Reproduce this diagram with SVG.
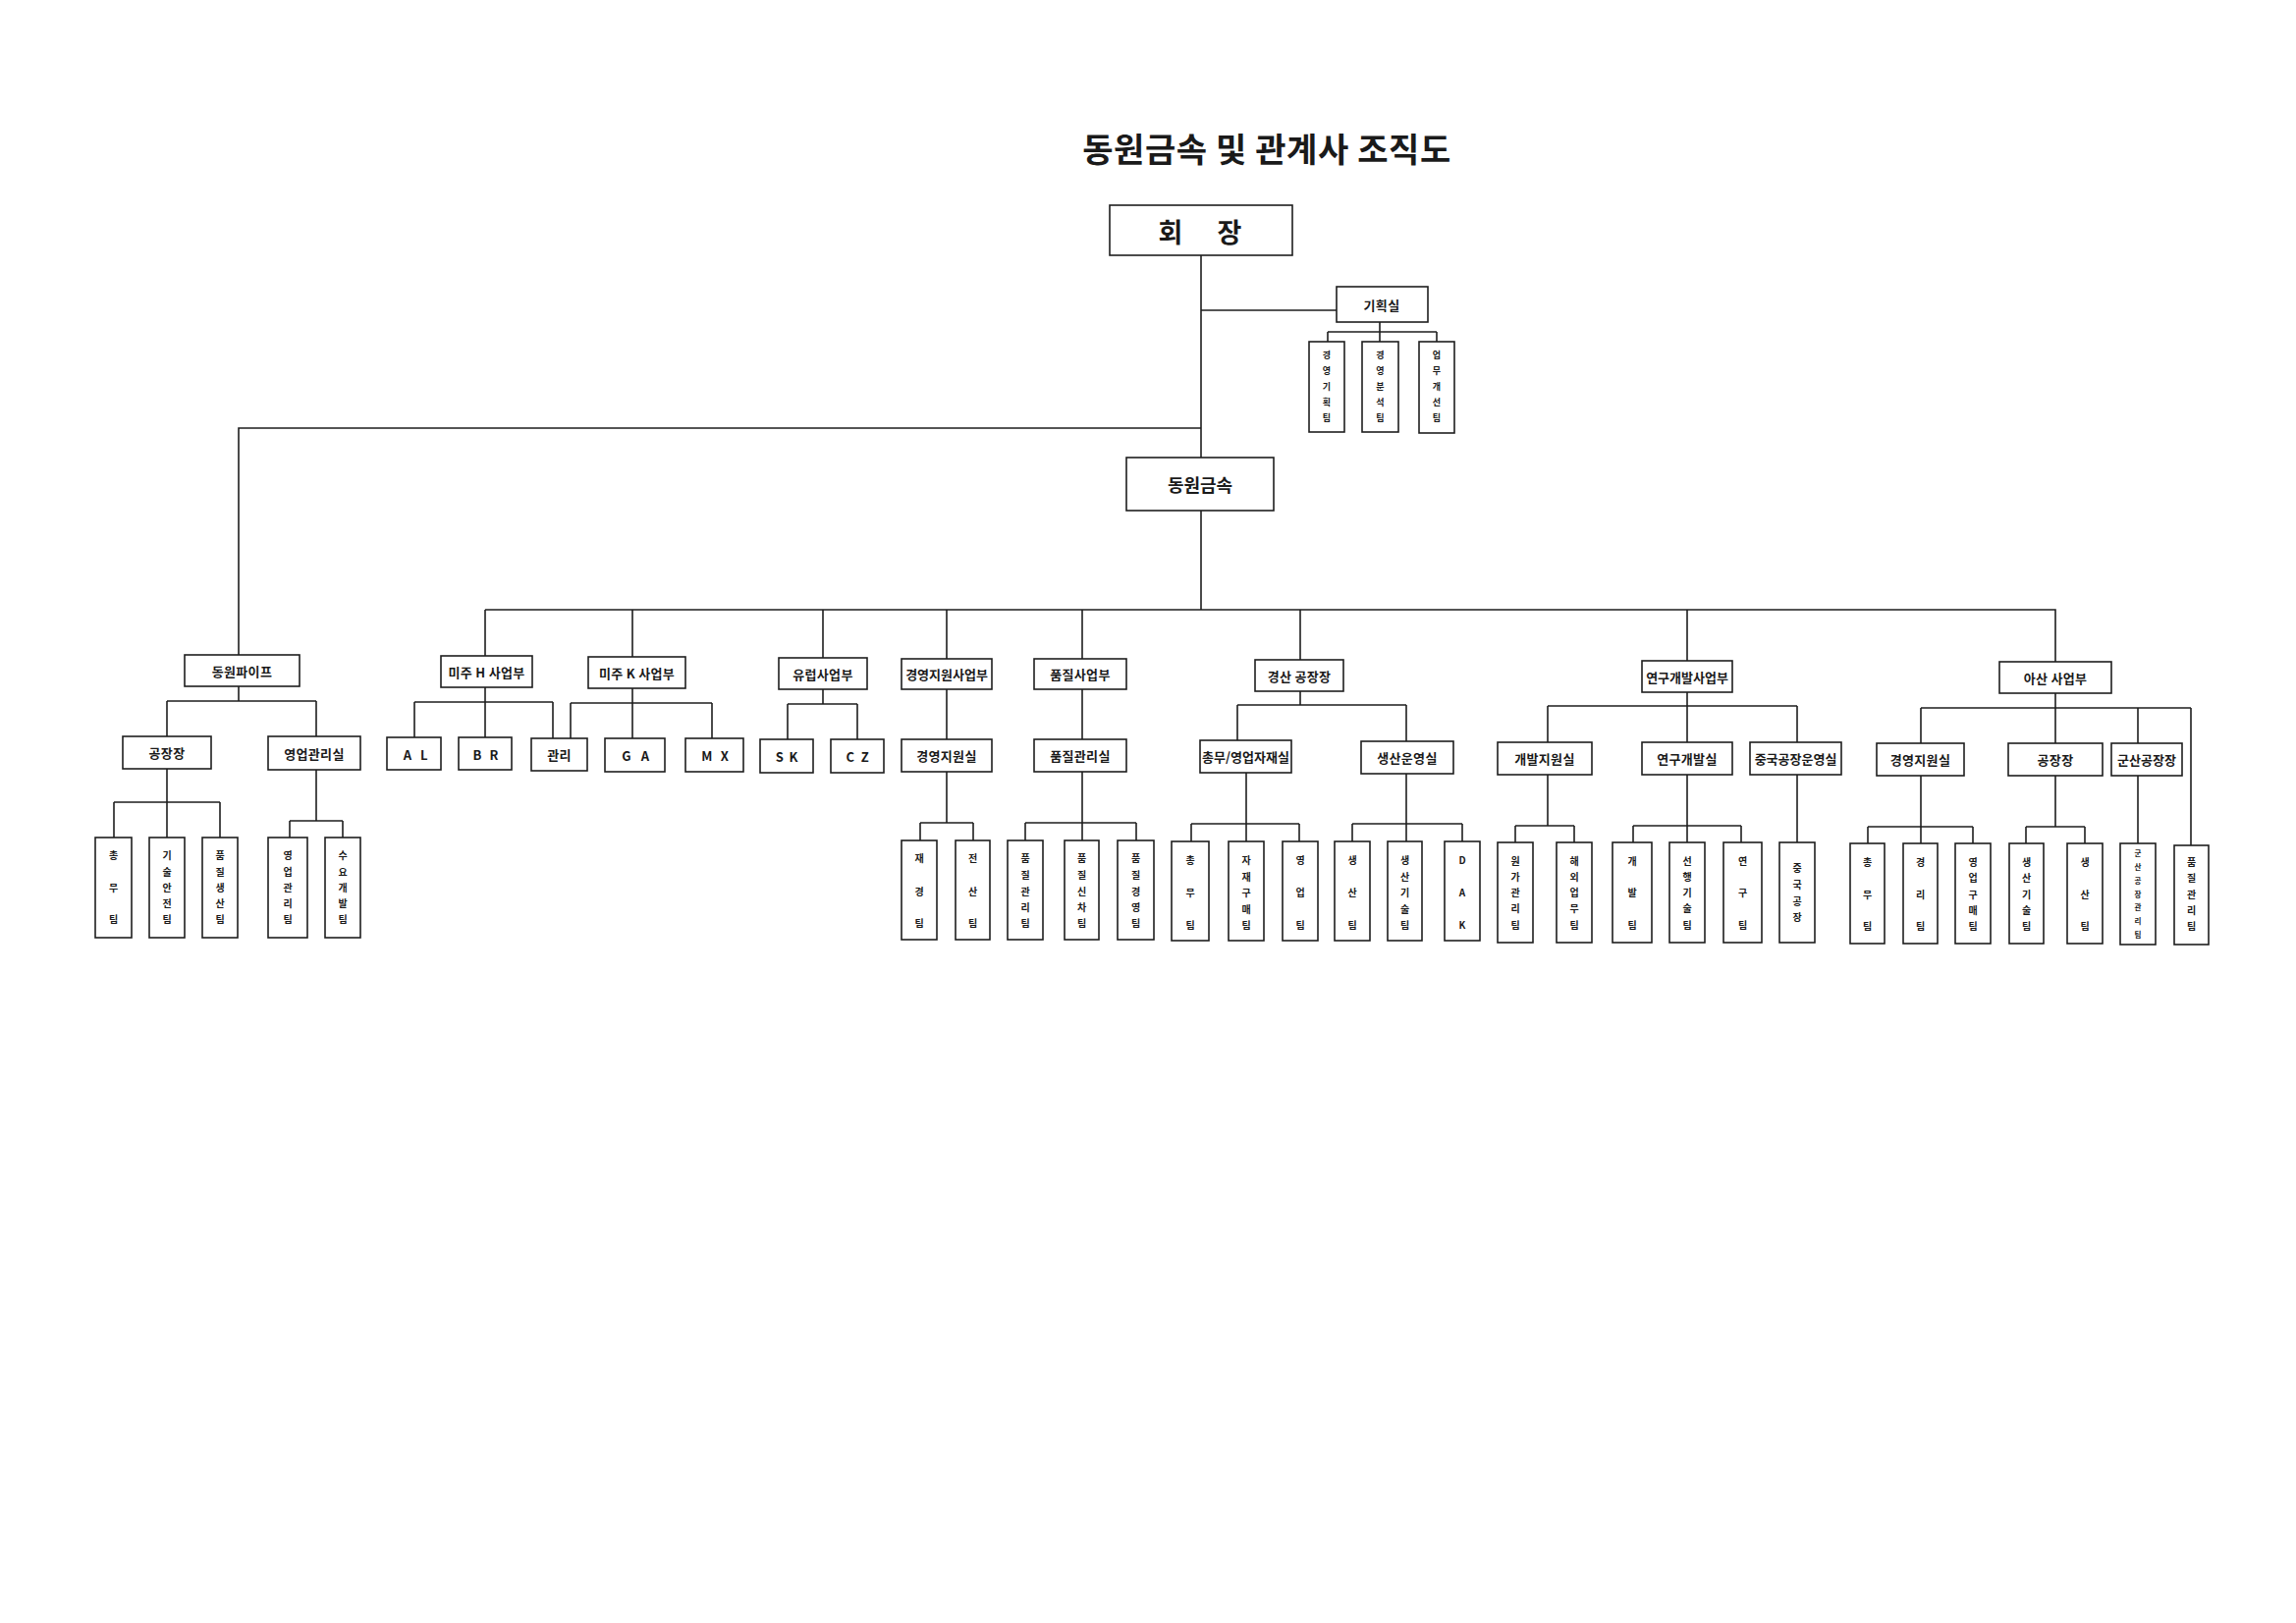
<svg xmlns="http://www.w3.org/2000/svg" width="2338" height="1653" viewBox="0 0 2338 1653">
<style>
rect{fill:#fff;stroke:#1e1e1e;stroke-width:1.6}
text{font-family:"Noto Sans CJK KR","Noto Sans",sans-serif;font-weight:bold;fill:#1a1a1a;text-anchor:middle;dominant-baseline:central}
.t{font-size:13px;letter-spacing:0.3px}
.v{font-size:10px}
.v9{font-size:9px}
.v8{font-size:7.5px}
#connectors path{fill:none;stroke:#1e1e1e;stroke-width:1.6}
</style>
<rect x="0" y="0" width="2338" height="1653" style="fill:#fff;stroke:none"/>
<text x="1290" y="150" style="font-size:34px;letter-spacing:0.6px">동원금속 및 관계사 조직도</text>

<g id="connectors">
<path d="M1223 260V466M1223 520V621"/>
<path d="M1223 316H1361M1405 328V338M1352 338H1463M1352 338V348M1405 338V348M1463 338V348"/>
<path d="M1223 436H243V667"/>
<path d="M494 621H2093V674M494 621V668M644 621V669M838 621V670M964 621V671M1102 621V671M1324 621V672M1718 621V673"/>
<path d="M243 699V714M170 714H322M170 714V750M322 714V750"/>
<path d="M170 783V817M116 817H224M116 817V853M170 817V853M224 817V853"/>
<path d="M322 784V836M295 836H349M295 836V853M349 836V853"/>
<path d="M494 700V751M422 715H563M422 715V751M563 715V752"/>
<path d="M644 701V752M581 716H725M581 716V752M725 716V752"/>
<path d="M838 702V717M802 717H873M802 717V753M873 717V753"/>
<path d="M964 702V753M964 786V838M937 838H991M937 838V856M991 838V856"/>
<path d="M1102 702V753M1102 786V856M1044 838H1157M1044 838V856M1157 838V856"/>
<path d="M1324 704V718M1260 718H1432M1260 718V754M1432 718V755"/>
<path d="M1269 787V857M1213 839H1323M1213 839V857M1323 839V857"/>
<path d="M1432 788V857M1377 839H1489M1377 839V857M1489 839V857"/>
<path d="M1718 705V756M1576 719H1830M1576 719V756M1830 719V756"/>
<path d="M1576 789V841M1543 841H1603M1543 841V858M1603 841V858"/>
<path d="M1718 789V858M1663 841H1773M1663 841V858M1773 841V858"/>
<path d="M1830 789V858"/>
<path d="M2093 706V757M1956 721H2231M1956 721V757M2177 721V757M2231 721V861"/>
<path d="M1956 790V842M1902 842H2009M1902 842V859M1956 842V859M2009 842V859"/>
<path d="M2093 790V842M2063 842H2123M2063 842V859M2123 842V859"/>
<path d="M2177 790V859"/>
</g>

<g id="n-chairman"><rect x="1130" y="209" width="186" height="51"/><text style="font-size:27px" y="235"><tspan x="1192">회</tspan><tspan x="1252">장</tspan></text></g>
<g id="n-planning"><rect x="1361" y="292" width="93" height="36"/><text class="t" x="1407" y="310">기획실</text></g>
<g id="n-plan1"><rect x="1333" y="348" width="36" height="92"/><text class="v9"><tspan x="1351" y="361">경</tspan><tspan x="1351" y="377">영</tspan><tspan x="1351" y="393">기</tspan><tspan x="1351" y="409">획</tspan><tspan x="1351" y="425">팀</tspan></text></g>
<g id="n-plan2"><rect x="1387" y="348" width="37" height="92"/><text class="v9"><tspan x="1405.5" y="361">경</tspan><tspan x="1405.5" y="377">영</tspan><tspan x="1405.5" y="393">분</tspan><tspan x="1405.5" y="409">석</tspan><tspan x="1405.5" y="425">팀</tspan></text></g>
<g id="n-plan3"><rect x="1445" y="348" width="36" height="93"/><text class="v9"><tspan x="1463" y="361">업</tspan><tspan x="1463" y="377">무</tspan><tspan x="1463" y="393">개</tspan><tspan x="1463" y="409">선</tspan><tspan x="1463" y="425">팀</tspan></text></g>
<g id="n-dongwon"><rect x="1147" y="466" width="150" height="54"/><text x="1222" y="493" style="font-size:18px">동원금속</text></g>

<g id="n-pipe"><rect x="188" y="667" width="117" height="32"/><text class="t" x="246.5" y="683">동원파이프</text></g>
<g id="n-pipe-factory"><rect x="125" y="750" width="90" height="33"/><text class="t" x="170" y="766.5">공장장</text></g>
<g id="n-pipe-sales"><rect x="273" y="750" width="94" height="34"/><text class="t" x="320" y="767">영업관리실</text></g>
<g id="n-p1"><rect x="97" y="853" width="37" height="102"/><text class="v"><tspan x="115.5" y="870">총</tspan><tspan x="115.5" y="903">무</tspan><tspan x="115.5" y="935">팀</tspan></text></g>
<g id="n-p2"><rect x="152" y="853" width="36" height="102"/><text class="v"><tspan x="170" y="870">기</tspan><tspan x="170" y="887">술</tspan><tspan x="170" y="903">안</tspan><tspan x="170" y="919">전</tspan><tspan x="170" y="935">팀</tspan></text></g>
<g id="n-p3"><rect x="206" y="853" width="36" height="102"/><text class="v"><tspan x="224" y="870">품</tspan><tspan x="224" y="887">질</tspan><tspan x="224" y="903">생</tspan><tspan x="224" y="919">산</tspan><tspan x="224" y="935">팀</tspan></text></g>
<g id="n-p4"><rect x="273" y="853" width="40" height="102"/><text class="v"><tspan x="293" y="870">영</tspan><tspan x="293" y="887">업</tspan><tspan x="293" y="903">관</tspan><tspan x="293" y="919">리</tspan><tspan x="293" y="935">팀</tspan></text></g>
<g id="n-p5"><rect x="331" y="853" width="36" height="102"/><text class="v"><tspan x="349" y="870">수</tspan><tspan x="349" y="887">요</tspan><tspan x="349" y="903">개</tspan><tspan x="349" y="919">발</tspan><tspan x="349" y="935">팀</tspan></text></g>

<g id="n-amh"><rect x="449" y="668" width="93" height="32"/><text class="t" x="495.5" y="684">미주 H 사업부</text></g>
<g id="n-amk"><rect x="599" y="669" width="99" height="32"/><text class="t" x="648.5" y="685">미주 K 사업부</text></g>
<g id="n-eu"><rect x="793" y="670" width="90" height="32"/><text class="t" x="838" y="686">유럽사업부</text></g>
<g id="n-al"><rect x="394" y="751" width="55" height="33"/><text class="t" y="767.5"><tspan x="415">A</tspan><tspan x="432">L</tspan></text></g>
<g id="n-br"><rect x="467" y="751" width="54" height="33"/><text class="t" y="767.5"><tspan x="486">B</tspan><tspan x="503">R</tspan></text></g>
<g id="n-admin"><rect x="541" y="752" width="57" height="33"/><text class="t" x="569.5" y="768">관리</text></g>
<g id="n-ga"><rect x="616" y="752" width="61" height="34"/><text class="t" y="769"><tspan x="638">G</tspan><tspan x="657">A</tspan></text></g>
<g id="n-mx"><rect x="698" y="752" width="59" height="34"/><text class="t" y="769"><tspan x="720">M</tspan><tspan x="738">X</tspan></text></g>
<g id="n-sk"><rect x="774" y="753" width="54" height="34"/><text class="t" y="770"><tspan x="794">S</tspan><tspan x="808">K</tspan></text></g>
<g id="n-cz"><rect x="846" y="753" width="54" height="34"/><text class="t" y="770"><tspan x="866">C</tspan><tspan x="881">Z</tspan></text></g>

<g id="n-mgmt-div"><rect x="918" y="671" width="92" height="31"/><text class="t" x="964" y="686.5" style="letter-spacing:0">경영지원사업부</text></g>
<g id="n-qual-div"><rect x="1053" y="671" width="94" height="31"/><text class="t" x="1100" y="686.5">품질사업부</text></g>
<g id="n-mgmt-office"><rect x="918" y="753" width="92" height="33"/><text class="t" x="964" y="769.5">경영지원실</text></g>
<g id="n-qual-office"><rect x="1053" y="753" width="94" height="33"/><text class="t" x="1100" y="769.5">품질관리실</text></g>
<g id="n-m1"><rect x="918" y="856" width="36" height="101"/><text class="v"><tspan x="936" y="873">재</tspan><tspan x="936" y="907">경</tspan><tspan x="936" y="939">팀</tspan></text></g>
<g id="n-m2"><rect x="973" y="856" width="35" height="101"/><text class="v"><tspan x="990.5" y="873">전</tspan><tspan x="990.5" y="907">산</tspan><tspan x="990.5" y="939">팀</tspan></text></g>
<g id="n-q1"><rect x="1026" y="856" width="36" height="101"/><text class="v"><tspan x="1044" y="873">품</tspan><tspan x="1044" y="890">질</tspan><tspan x="1044" y="907">관</tspan><tspan x="1044" y="923">리</tspan><tspan x="1044" y="939">팀</tspan></text></g>
<g id="n-q2"><rect x="1084" y="856" width="35" height="101"/><text class="v"><tspan x="1101.5" y="873">품</tspan><tspan x="1101.5" y="890">질</tspan><tspan x="1101.5" y="907">신</tspan><tspan x="1101.5" y="923">차</tspan><tspan x="1101.5" y="939">팀</tspan></text></g>
<g id="n-q3"><rect x="1138" y="856" width="37" height="101"/><text class="v"><tspan x="1156.5" y="873">품</tspan><tspan x="1156.5" y="890">질</tspan><tspan x="1156.5" y="907">경</tspan><tspan x="1156.5" y="923">영</tspan><tspan x="1156.5" y="939">팀</tspan></text></g>

<g id="n-gyeongsan"><rect x="1278" y="672" width="90" height="32"/><text class="t" x="1323" y="688">경산 공장장</text></g>
<g id="n-gs-admin"><rect x="1222" y="754" width="93" height="33"/><text class="t" x="1268.5" y="770.5" style="letter-spacing:0">총무/영업자재실</text></g>
<g id="n-gs-prod"><rect x="1386" y="755" width="94" height="33"/><text class="t" x="1433" y="771.5">생산운영실</text></g>
<g id="n-g1"><rect x="1193" y="857" width="38" height="101"/><text class="v"><tspan x="1212" y="875">총</tspan><tspan x="1212" y="908">무</tspan><tspan x="1212" y="941">팀</tspan></text></g>
<g id="n-g2"><rect x="1251" y="857" width="36" height="101"/><text class="v"><tspan x="1269" y="875">자</tspan><tspan x="1269" y="892">재</tspan><tspan x="1269" y="908">구</tspan><tspan x="1269" y="925">매</tspan><tspan x="1269" y="941">팀</tspan></text></g>
<g id="n-g3"><rect x="1306" y="857" width="36" height="101"/><text class="v"><tspan x="1324" y="875">영</tspan><tspan x="1324" y="908">업</tspan><tspan x="1324" y="941">팀</tspan></text></g>
<g id="n-g4"><rect x="1359" y="857" width="36" height="101"/><text class="v"><tspan x="1377" y="875">생</tspan><tspan x="1377" y="908">산</tspan><tspan x="1377" y="941">팀</tspan></text></g>
<g id="n-g5"><rect x="1413" y="857" width="35" height="101"/><text class="v"><tspan x="1430.5" y="875">생</tspan><tspan x="1430.5" y="892">산</tspan><tspan x="1430.5" y="908">기</tspan><tspan x="1430.5" y="925">술</tspan><tspan x="1430.5" y="941">팀</tspan></text></g>
<g id="n-g6"><rect x="1471" y="857" width="36" height="101"/><text class="v"><tspan x="1489" y="875">D</tspan><tspan x="1489" y="908">A</tspan><tspan x="1489" y="941">K</tspan></text></g>

<g id="n-rnd-div"><rect x="1672" y="673" width="92" height="32"/><text class="t" x="1718" y="689" style="letter-spacing:0">연구개발사업부</text></g>
<g id="n-dev-support"><rect x="1525" y="756" width="96" height="33"/><text class="t" x="1573" y="772.5">개발지원실</text></g>
<g id="n-rnd-office"><rect x="1672" y="756" width="92" height="33"/><text class="t" x="1718" y="772.5">연구개발실</text></g>
<g id="n-china-office"><rect x="1782" y="756" width="93" height="33"/><text class="t" x="1828.5" y="772.5" style="letter-spacing:0">중국공장운영실</text></g>
<g id="n-r1"><rect x="1525" y="858" width="36" height="102"/><text class="v"><tspan x="1543" y="876">원</tspan><tspan x="1543" y="892">가</tspan><tspan x="1543" y="908">관</tspan><tspan x="1543" y="924">리</tspan><tspan x="1543" y="941">팀</tspan></text></g>
<g id="n-r2"><rect x="1585" y="858" width="36" height="102"/><text class="v"><tspan x="1603" y="876">해</tspan><tspan x="1603" y="892">외</tspan><tspan x="1603" y="908">업</tspan><tspan x="1603" y="924">무</tspan><tspan x="1603" y="941">팀</tspan></text></g>
<g id="n-r3"><rect x="1642" y="858" width="40" height="102"/><text class="v"><tspan x="1662" y="876">개</tspan><tspan x="1662" y="908">발</tspan><tspan x="1662" y="941">팀</tspan></text></g>
<g id="n-r4"><rect x="1700" y="858" width="36" height="102"/><text class="v"><tspan x="1718" y="876">선</tspan><tspan x="1718" y="892">행</tspan><tspan x="1718" y="908">기</tspan><tspan x="1718" y="924">술</tspan><tspan x="1718" y="941">팀</tspan></text></g>
<g id="n-r5"><rect x="1755" y="858" width="39" height="102"/><text class="v"><tspan x="1774.5" y="876">연</tspan><tspan x="1774.5" y="908">구</tspan><tspan x="1774.5" y="941">팀</tspan></text></g>
<g id="n-r6"><rect x="1812" y="858" width="36" height="102"/><text class="v"><tspan x="1830" y="883">중</tspan><tspan x="1830" y="900">국</tspan><tspan x="1830" y="917">공</tspan><tspan x="1830" y="933">장</tspan></text></g>

<g id="n-asan"><rect x="2036" y="674" width="114" height="32"/><text class="t" x="2093" y="690">아산 사업부</text></g>
<g id="n-asan-mgmt"><rect x="1911" y="757" width="89" height="33"/><text class="t" x="1955.5" y="773.5">경영지원실</text></g>
<g id="n-asan-factory"><rect x="2045" y="757" width="96" height="33"/><text class="t" x="2093" y="773.5">공장장</text></g>
<g id="n-gunsan"><rect x="2150" y="757" width="72" height="33"/><text class="t" x="2186" y="773.5" style="letter-spacing:0">군산공장장</text></g>
<g id="n-a1"><rect x="1884" y="859" width="35" height="102"/><text class="v"><tspan x="1901.5" y="877">총</tspan><tspan x="1901.5" y="910">무</tspan><tspan x="1901.5" y="942">팀</tspan></text></g>
<g id="n-a2"><rect x="1938" y="859" width="35" height="102"/><text class="v"><tspan x="1955.5" y="877">경</tspan><tspan x="1955.5" y="910">리</tspan><tspan x="1955.5" y="942">팀</tspan></text></g>
<g id="n-a3"><rect x="1991" y="859" width="36" height="102"/><text class="v"><tspan x="2009" y="877">영</tspan><tspan x="2009" y="893">업</tspan><tspan x="2009" y="910">구</tspan><tspan x="2009" y="926">매</tspan><tspan x="2009" y="942">팀</tspan></text></g>
<g id="n-a4"><rect x="2046" y="859" width="35" height="102"/><text class="v"><tspan x="2063.5" y="877">생</tspan><tspan x="2063.5" y="893">산</tspan><tspan x="2063.5" y="910">기</tspan><tspan x="2063.5" y="926">술</tspan><tspan x="2063.5" y="942">팀</tspan></text></g>
<g id="n-a5"><rect x="2105" y="859" width="36" height="102"/><text class="v"><tspan x="2123" y="877">생</tspan><tspan x="2123" y="910">산</tspan><tspan x="2123" y="942">팀</tspan></text></g>
<g id="n-a6"><rect x="2159" y="859" width="36" height="103"/><text class="v8"><tspan x="2177" y="868">군</tspan><tspan x="2177" y="882">산</tspan><tspan x="2177" y="896">공</tspan><tspan x="2177" y="909.5">장</tspan><tspan x="2177" y="923">관</tspan><tspan x="2177" y="937">리</tspan><tspan x="2177" y="951">팀</tspan></text></g>
<g id="n-a7"><rect x="2214" y="861" width="35" height="101"/><text class="v"><tspan x="2231.5" y="877">품</tspan><tspan x="2231.5" y="893">질</tspan><tspan x="2231.5" y="910">관</tspan><tspan x="2231.5" y="926">리</tspan><tspan x="2231.5" y="942">팀</tspan></text></g>
</svg>
